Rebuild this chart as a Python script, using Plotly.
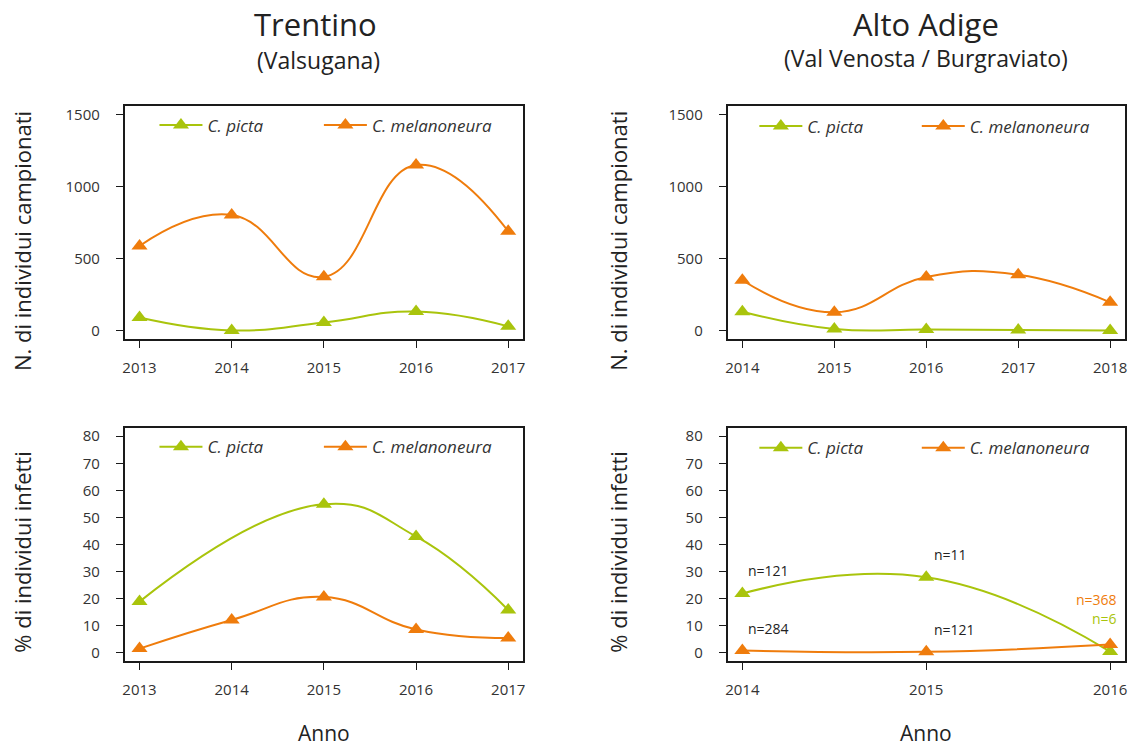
import plotly.graph_objects as go

GREEN = '#a9c40c'
ORANGE = '#ef7c0c'
FONT = 'Open Sans'

# ---------------- data ----------------
years_tn = [2013, 2014, 2015, 2016, 2017]
tn_count_picta = [92, 2, 57, 133, 30]
tn_count_melan = [588, 803, 374, 1150, 690]
tn_inf_picta = [18.8, None, 54.8, 42.9, 15.7]
tn_inf_melan = [1.4, 12.0, 20.5, 8.5, 5.3]

years_aa_count = [2014, 2015, 2016, 2017, 2018]
aa_count_picta = [132, 12, 8, 4, 2]
aa_count_melan = [350, 128, 372, 388, 197]

years_aa_inf = [2014, 2015, 2016]
aa_inf_picta = [21.8, 27.8, 0.3]
aa_inf_melan = [0.7, 0.2, 2.9]
aa_n_picta = ['n=121', 'n=11', 'n=6']
aa_n_melan = ['n=284', 'n=121', 'n=368']

names = ['C. picta', 'C. melanoneura']
count_ticks = [0, 500, 1000, 1500]
inf_ticks = [0, 10, 20, 30, 40, 50, 60, 70, 80]

# body margin is removed by a post script, so the figure fills the window
W, H = 1141, 750


def px(x):
    return x / W


def py(y):
    return 1 - y / H


fig = go.Figure()

# (xaxis, yaxis, years, picta, melanoneura, legend x of picta, legend x of melanoneura, legend y)
panels = [
    ('x', 'y', years_tn, tn_count_picta, tn_count_melan, 153, 318, 124),
    ('x2', 'y2', years_aa_count, aa_count_picta, aa_count_melan, 755, 918, 125),
    ('x3', 'y3', years_tn, tn_inf_picta, tn_inf_melan, 153, 318, 447),
    ('x4', 'y4', years_aa_inf, aa_inf_picta, aa_inf_melan, 755, 918, 448),
]

leg_common = dict(orientation='h', bgcolor='rgba(0,0,0,0)', borderwidth=0,
                  font=dict(family=FONT, size=17, color='#333333', style='italic'),
                  xanchor='left', yanchor='middle', itemwidth=43,
                  itemclick=False, itemdoubleclick=False)

legends = {}
k = 0
for xa, ya, yrs, p, m, lxp, lxm, ly in panels:
    for vals, col, nm, lx in ((p, GREEN, names[0], lxp), (m, ORANGE, names[1], lxm)):
        k += 1
        lname = 'legend' if k == 1 else 'legend%d' % k
        legends[lname] = dict(x=px(lx), y=py(ly), **leg_common)
        fig.add_trace(go.Scatter(
            x=yrs, y=vals, name=nm, mode='lines+markers',
            line=dict(color=col, width=2, shape='spline', smoothing=1.3),
            marker=dict(symbol='triangle-up', size=14, color=col),
            connectgaps=True, xaxis=xa, yaxis=ya, legend=lname,
            showlegend=True, hoverinfo='x+y'))

fig.update_layout(**legends)

axis_common = dict(showline=True, linecolor='#1a1a1a', linewidth=1.8, mirror=True,
                   ticks='outside', ticklen=7, tickwidth=1.2, tickcolor='#1a1a1a',
                   showgrid=False, zeroline=False,
                   tickfont=dict(family=FONT, size=15, color='#333333'))

left_dom = [px(123.2), px(522.8)]
right_dom = [px(728.2), px(1126.8)]
top_dom = [py(338.7), py(104.3)]
bot_dom = [py(661.7), py(427.3)]

fig.update_layout(
    xaxis=dict(domain=left_dom, anchor='y', range=[2012.84, 2017.16], tickvals=years_tn,
               ticklabelstandoff=7, **axis_common),
    yaxis=dict(domain=top_dom, anchor='x', range=[-60, 1560], tickvals=count_ticks,
               ticklabelstandoff=13, **axis_common),
    xaxis2=dict(domain=right_dom, anchor='y2', range=[2013.84, 2018.16], tickvals=years_aa_count,
                ticklabelstandoff=7, **axis_common),
    yaxis2=dict(domain=top_dom, anchor='x2', range=[-60, 1560], tickvals=count_ticks,
                ticklabelstandoff=13, **axis_common),
    xaxis3=dict(domain=left_dom, anchor='y3', range=[2012.84, 2017.16], tickvals=years_tn,
                ticklabelstandoff=7, **axis_common),
    yaxis3=dict(domain=bot_dom, anchor='x3', range=[-3.2, 83.2], tickvals=inf_ticks,
                ticklabelstandoff=13, **axis_common),
    xaxis4=dict(domain=right_dom, anchor='y4', range=[2013.92, 2016.08], tickvals=years_aa_inf,
                ticklabelstandoff=7, **axis_common),
    yaxis4=dict(domain=bot_dom, anchor='x4', range=[-3.2, 83.2], tickvals=inf_ticks,
                ticklabelstandoff=13, **axis_common),
)

ann = []
# titles
ann.append(dict(text='Trentino', x=px(315), y=py(22), font=dict(size=31)))
ann.append(dict(text='(Valsugana)', x=px(318), y=py(58), font=dict(size=23)))
ann.append(dict(text='Alto Adige', x=px(927), y=py(22), font=dict(size=31)))
ann.append(dict(text='(Val Venosta / Burgraviato)', x=px(927), y=py(56), font=dict(size=23)))
# axis titles
for xx in (20, 618):
    ann.append(dict(text='N. di individui campionati', x=px(xx), y=py(240), textangle=-90,
                    font=dict(size=22)))
    ann.append(dict(text='% di individui infetti', x=px(xx), y=py(552), textangle=-90,
                    font=dict(size=22)))
ann.append(dict(text='Anno', x=px(323), y=py(734), font=dict(size=21)))
ann.append(dict(text='Anno', x=px(927), y=py(734), font=dict(size=21)))
for a in ann:
    a.update(xref='paper', yref='paper', showarrow=False, xanchor='center', yanchor='middle',
             borderpad=0)
    a['font'] = dict(family=FONT, color='#222222', **a['font'])

# sample size labels (bottom-right panel)
n_pos_picta = [(years_aa_inf[0] + 0.02, 30.2, 'left', '#222222'),
               (years_aa_inf[1] + 0.03, 36.1, 'left', '#222222'),
               (years_aa_inf[2] + 0.05, 12.5, 'right', GREEN)]
n_pos_melan = [(years_aa_inf[0] + 0.02, 8.8, 'left', '#222222'),
               (years_aa_inf[1] + 0.03, 8.5, 'left', '#222222'),
               (years_aa_inf[2] + 0.05, 19.5, 'right', ORANGE)]
for labels, pos in ((aa_n_picta, n_pos_picta), (aa_n_melan, n_pos_melan)):
    for t, (xx, yy, anc, col) in zip(labels, pos):
        ann.append(dict(text=t, x=xx, y=yy, xref='x4', yref='y4', showarrow=False,
                        xanchor=anc, yanchor='middle',
                        font=dict(family=FONT, size=14, color=col)))

fig.update_layout(
    annotations=ann,
    width=W, height=H, margin=dict(l=0, r=0, t=0, b=0),
    paper_bgcolor='white', plot_bgcolor='white',
    font=dict(family=FONT, color='#333333'),
)

fig.write_html('out.html', config={'displayModeBar': False},
               post_script="document.body.style.margin='0px';document.body.style.overflow='hidden';")
